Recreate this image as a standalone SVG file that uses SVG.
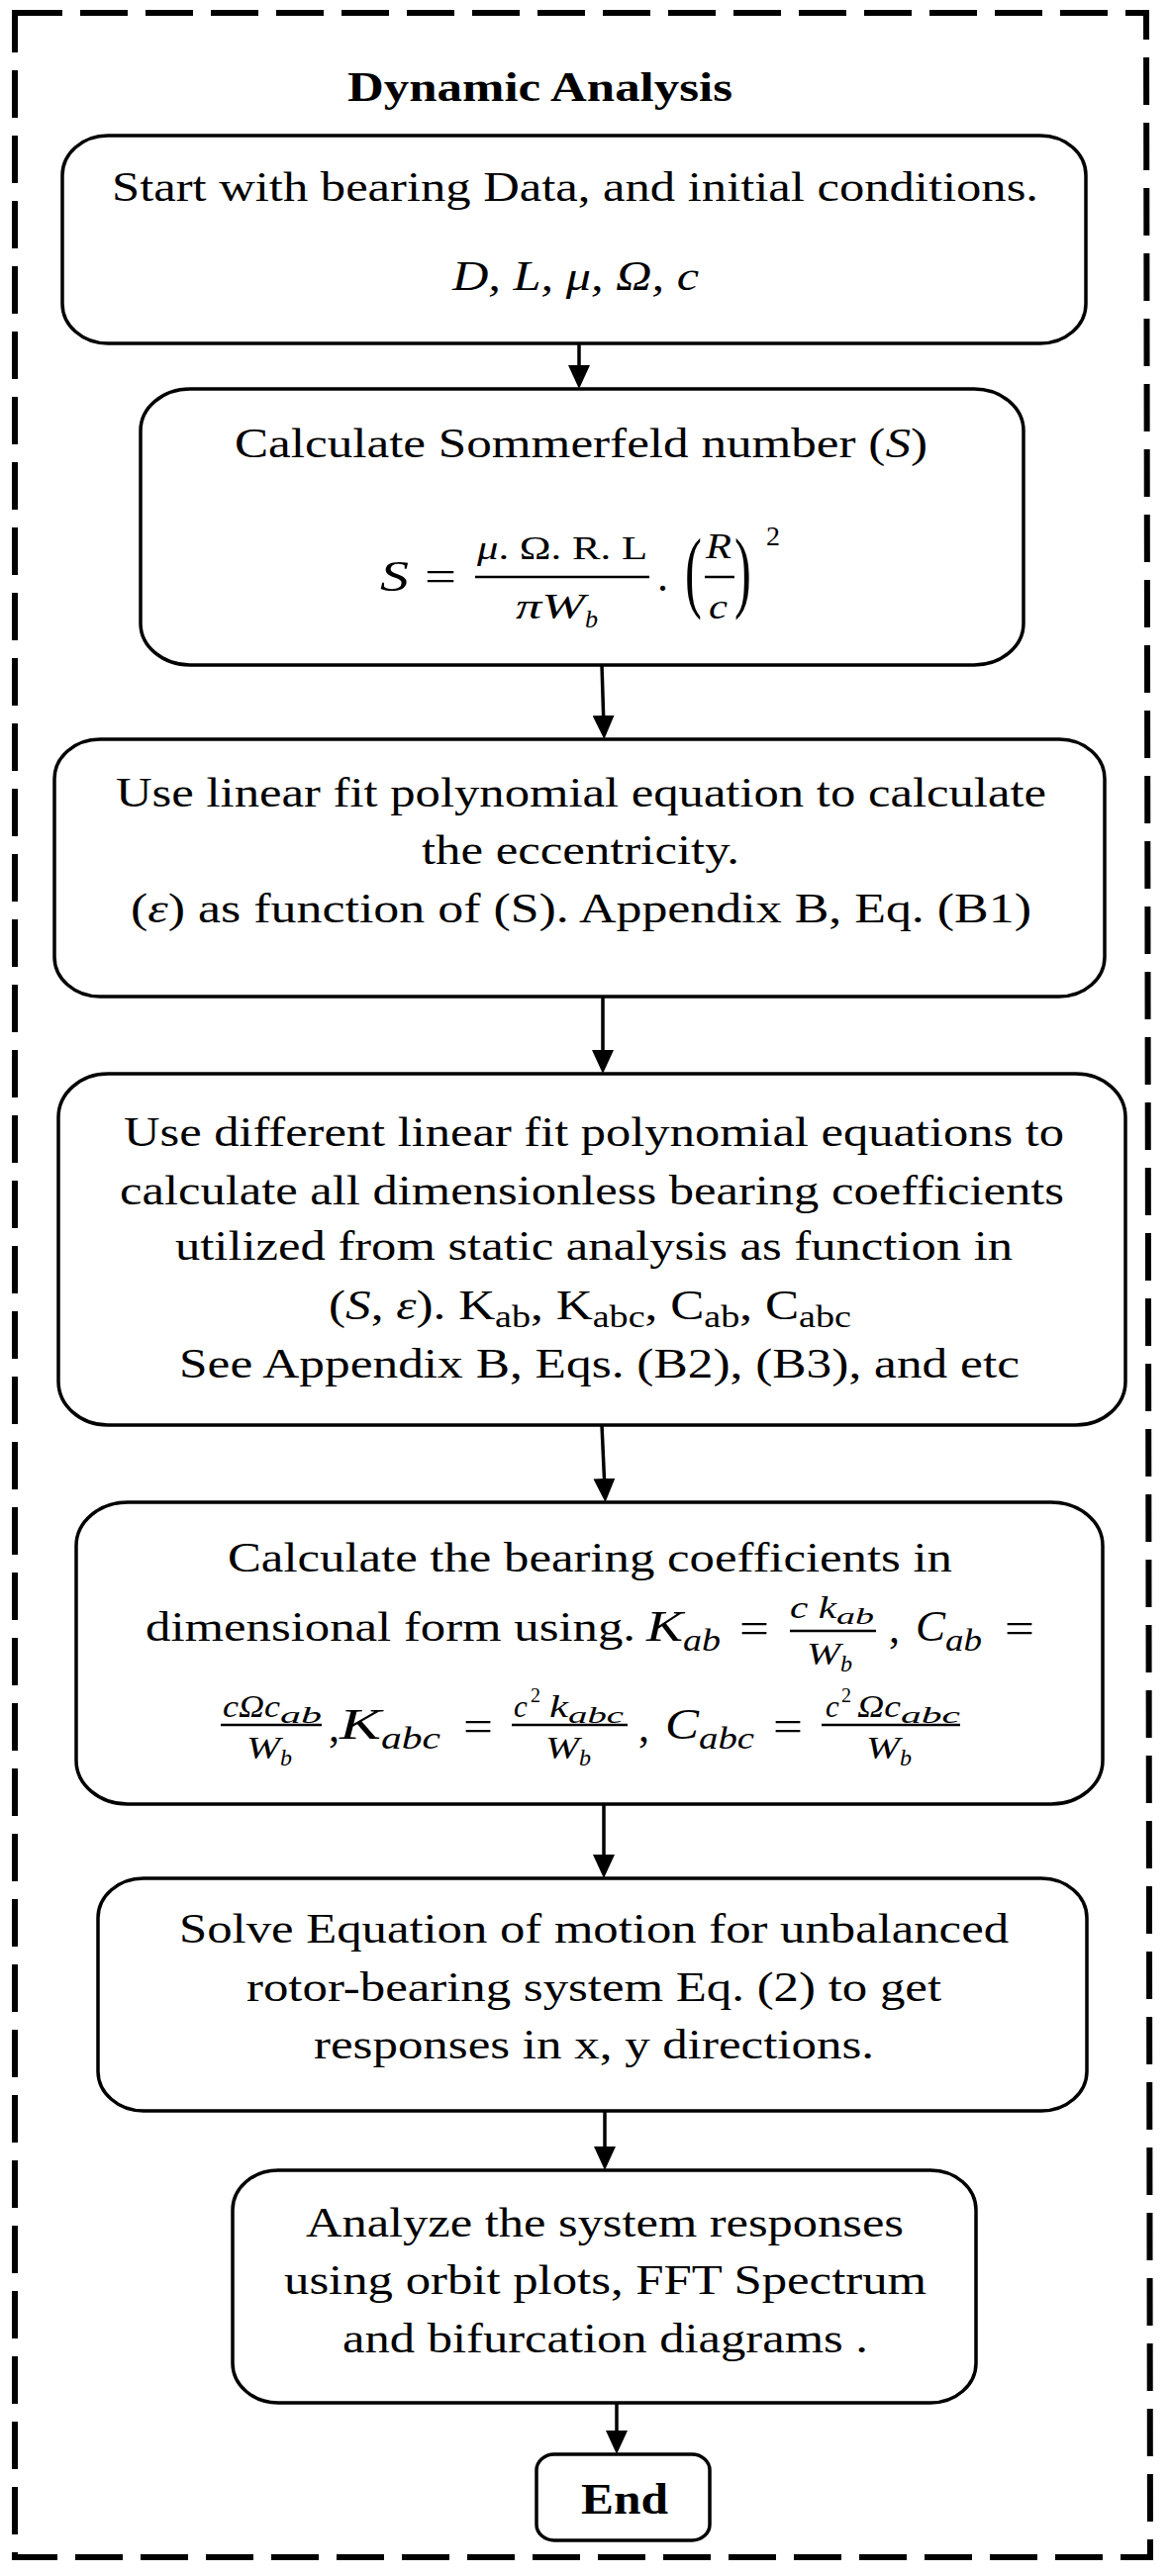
<svg xmlns="http://www.w3.org/2000/svg" width="1182" height="2603" viewBox="0 0 1182 2603">
<style>
.bg{fill:#fff}
.frame{fill:none;stroke:#000;stroke-width:6;stroke-dasharray:48 18}
.box{fill:#fff;stroke:#000;stroke-width:3.5}
.t{font-family:"Liberation Serif","Times New Roman",serif;font-size:43px;fill:#000}
.b{font-family:"Liberation Serif","Times New Roman",serif;font-weight:bold;fill:#000}
.m{font-family:"Liberation Serif","Times New Roman",serif;font-style:italic;fill:#000}
.u{font-family:"Liberation Serif","Times New Roman",serif;fill:#000}
.bar{stroke:#000;stroke-width:2.5}
.conn line{stroke:#000;stroke-width:3.5}
</style>
<defs>
<marker id="ah" viewBox="0 0 24 22" refX="12" refY="11" markerWidth="24" markerHeight="22" markerUnits="userSpaceOnUse" orient="auto">
<path d="M0,0 L24,11 L0,22 Z" fill="#000"/>
</marker>
</defs>
<rect class="bg" x="0" y="0" width="1182" height="2603"/>
<path class="frame" d="M15,13 L1158,13 L1162,2584 L15,2584 Z"/>
<text class="b" x="351" y="102" font-size="43" textLength="389" lengthAdjust="spacingAndGlyphs">Dynamic Analysis</text>

<g id="n1">
<rect class="box" x="63" y="137" width="1034" height="210" rx="46" ry="40"/>
<text class="t" x="113" y="203" textLength="936" lengthAdjust="spacingAndGlyphs">Start with bearing Data, and initial conditions.</text>
<text class="m" x="457" y="293" font-size="43" textLength="249" lengthAdjust="spacingAndGlyphs">D, L, μ, Ω, c</text>
</g>

<g id="n2">
<rect class="box" x="142" y="393" width="892" height="279" rx="50" ry="42"/>
<text class="t" x="237" y="462" textLength="700" lengthAdjust="spacingAndGlyphs">Calculate Sommerfeld number (<tspan font-style="italic">S</tspan>)</text>
<text class="m" x="384" y="597" font-size="44" textLength="29" lengthAdjust="spacingAndGlyphs">S</text>
<text class="u" x="429" y="597" font-size="44" textLength="32" lengthAdjust="spacingAndGlyphs">=</text>
<text class="u" x="482" y="565" font-size="34" textLength="172" lengthAdjust="spacingAndGlyphs"><tspan font-style="italic">μ</tspan>. Ω. R. L</text>
<line class="bar" x1="480" y1="583" x2="656" y2="583"/>
<text class="m" x="521" y="625" font-size="36" textLength="70" lengthAdjust="spacingAndGlyphs">πW</text>
<text class="m" x="591" y="634" font-size="26">b</text>
<text class="u" x="664" y="597" font-size="44">.</text>
<text class="u" transform="translate(692,607) scale(0.55,1)" font-size="92">(</text>
<text class="m" x="713" y="564" font-size="36" textLength="26" lengthAdjust="spacingAndGlyphs">R</text>
<line class="bar" x1="712" y1="583" x2="742" y2="583"/>
<text class="m" x="716" y="625" font-size="36" textLength="19" lengthAdjust="spacingAndGlyphs">c</text>
<text class="u" transform="translate(742,607) scale(0.55,1)" font-size="92">)</text>
<text class="u" x="774" y="551" font-size="28">2</text>
</g>

<g id="n3">
<rect class="box" x="55" y="747" width="1061" height="260" rx="46" ry="40"/>
<text class="t" x="117" y="815" textLength="940" lengthAdjust="spacingAndGlyphs">Use linear fit polynomial equation to calculate</text>
<text class="t" x="426" y="873" textLength="321" lengthAdjust="spacingAndGlyphs">the eccentricity.</text>
<text class="t" x="132" y="932" textLength="910" lengthAdjust="spacingAndGlyphs">(<tspan font-style="italic">ε</tspan>) as function of (S). Appendix B, Eq. (B1)</text>
</g>

<g id="n4">
<rect class="box" x="59" y="1085" width="1078" height="355" rx="50" ry="44"/>
<text class="t" x="125" y="1158" textLength="950" lengthAdjust="spacingAndGlyphs">Use different linear fit polynomial equations to</text>
<text class="t" x="121" y="1217" textLength="954" lengthAdjust="spacingAndGlyphs">calculate all dimensionless bearing coefficients</text>
<text class="t" x="177" y="1273" textLength="846" lengthAdjust="spacingAndGlyphs">utilized from static analysis as function in</text>
<text class="t" x="332" y="1333" textLength="528" lengthAdjust="spacingAndGlyphs">(<tspan font-style="italic">S</tspan>, <tspan font-style="italic">ε</tspan>). K<tspan font-size="32" dy="8">ab</tspan><tspan dy="-8">, K</tspan><tspan font-size="32" dy="8">abc</tspan><tspan dy="-8">, C</tspan><tspan font-size="32" dy="8">ab</tspan><tspan dy="-8">, C</tspan><tspan font-size="32" dy="8">abc</tspan></text>
<text class="t" x="181" y="1392" textLength="849" lengthAdjust="spacingAndGlyphs">See Appendix B, Eqs. (B2), (B3), and etc</text>
</g>

<g id="n5">
<rect class="box" x="77" y="1518" width="1037" height="305" rx="52" ry="44"/>
<text class="t" x="230" y="1588" textLength="732" lengthAdjust="spacingAndGlyphs">Calculate the bearing coefficients in</text>
<text class="t" x="147" y="1658" textLength="495" lengthAdjust="spacingAndGlyphs">dimensional form using.</text>
<text class="m" x="653" y="1658" font-size="44" textLength="37" lengthAdjust="spacingAndGlyphs">K</text>
<text class="m" x="690" y="1668" font-size="32" textLength="38" lengthAdjust="spacingAndGlyphs">ab</text>
<text class="u" x="747" y="1660" font-size="44" textLength="30" lengthAdjust="spacingAndGlyphs">=</text>
<text class="m" x="798" y="1635" font-size="31" textLength="47" lengthAdjust="spacingAndGlyphs">c k</text>
<text class="m" x="845" y="1641" font-size="24" textLength="38" lengthAdjust="spacingAndGlyphs">ab</text>
<line class="bar" x1="798" y1="1648" x2="885" y2="1648"/>
<text class="m" x="815" y="1682" font-size="31" textLength="34" lengthAdjust="spacingAndGlyphs">W</text>
<text class="m" x="849" y="1689" font-size="24">b</text>
<text class="u" x="898" y="1660" font-size="44">,</text>
<text class="m" x="925" y="1658" font-size="44" textLength="30" lengthAdjust="spacingAndGlyphs">C</text>
<text class="m" x="955" y="1668" font-size="32" textLength="37" lengthAdjust="spacingAndGlyphs">ab</text>
<text class="u" x="1015" y="1660" font-size="44" textLength="30" lengthAdjust="spacingAndGlyphs">=</text>

<text class="m" x="225" y="1735" font-size="31" textLength="58" lengthAdjust="spacingAndGlyphs">cΩc</text>
<text class="m" x="283" y="1741" font-size="24" textLength="42" lengthAdjust="spacingAndGlyphs">ab</text>
<line class="bar" x1="223" y1="1743" x2="325" y2="1743"/>
<text class="m" x="249" y="1777" font-size="31" textLength="34" lengthAdjust="spacingAndGlyphs">W</text>
<text class="m" x="283" y="1784" font-size="24">b</text>
<text class="u" x="332" y="1760" font-size="44">,</text>
<text class="m" x="343" y="1757" font-size="44" textLength="42" lengthAdjust="spacingAndGlyphs">K</text>
<text class="m" x="385" y="1767" font-size="32" textLength="60" lengthAdjust="spacingAndGlyphs">abc</text>
<text class="u" x="468" y="1759" font-size="44" textLength="30" lengthAdjust="spacingAndGlyphs">=</text>
<text class="m" x="519" y="1735" font-size="31">c</text>
<text class="u" x="536" y="1720" font-size="20">2</text>
<text class="m" x="555" y="1735" font-size="31" textLength="19" lengthAdjust="spacingAndGlyphs">k</text>
<text class="m" x="574" y="1741" font-size="24" textLength="56" lengthAdjust="spacingAndGlyphs">abc</text>
<line class="bar" x1="517" y1="1743" x2="634" y2="1743"/>
<text class="m" x="551" y="1777" font-size="31" textLength="34" lengthAdjust="spacingAndGlyphs">W</text>
<text class="m" x="585" y="1784" font-size="24">b</text>
<text class="u" x="645" y="1760" font-size="44">,</text>
<text class="m" x="672" y="1757" font-size="44" textLength="34" lengthAdjust="spacingAndGlyphs">C</text>
<text class="m" x="706" y="1767" font-size="32" textLength="56" lengthAdjust="spacingAndGlyphs">abc</text>
<text class="u" x="781" y="1759" font-size="44" textLength="30" lengthAdjust="spacingAndGlyphs">=</text>
<text class="m" x="834" y="1735" font-size="31">c</text>
<text class="u" x="850" y="1720" font-size="20">2</text>
<text class="m" x="866" y="1735" font-size="31" textLength="44" lengthAdjust="spacingAndGlyphs">Ωc</text>
<text class="m" x="910" y="1741" font-size="24" textLength="60" lengthAdjust="spacingAndGlyphs">abc</text>
<line class="bar" x1="830" y1="1743" x2="970" y2="1743"/>
<text class="m" x="875" y="1777" font-size="31" textLength="34" lengthAdjust="spacingAndGlyphs">W</text>
<text class="m" x="909" y="1784" font-size="24">b</text>
</g>

<g id="n6">
<rect class="box" x="99" y="1898" width="999" height="235" rx="46" ry="40"/>
<text class="t" x="181" y="1963" textLength="838" lengthAdjust="spacingAndGlyphs">Solve Equation of motion for unbalanced</text>
<text class="t" x="249" y="2022" textLength="702" lengthAdjust="spacingAndGlyphs">rotor-bearing system Eq. (2) to get</text>
<text class="t" x="317" y="2080" textLength="566" lengthAdjust="spacingAndGlyphs">responses in x, y directions.</text>
</g>

<g id="n7">
<rect class="box" x="235" y="2193" width="751" height="235" rx="46" ry="40"/>
<text class="t" x="309" y="2260" textLength="604" lengthAdjust="spacingAndGlyphs">Analyze the system responses</text>
<text class="t" x="287" y="2318" textLength="649" lengthAdjust="spacingAndGlyphs">using orbit plots, FFT Spectrum</text>
<text class="t" x="346" y="2377" textLength="531" lengthAdjust="spacingAndGlyphs">and bifurcation diagrams .</text>
</g>

<g id="n8">
<rect class="box" x="542" y="2480" width="175" height="87" rx="18" ry="16"/>
<text class="b" x="587" y="2540" font-size="45" textLength="88" lengthAdjust="spacingAndGlyphs">End</text>
</g>

<g id="connectors" class="conn">
<line x1="585" y1="347" x2="585" y2="381" marker-end="url(#ah)"/>
<line x1="608" y1="672" x2="610" y2="735" marker-end="url(#ah)"/>
<line x1="609" y1="1007" x2="609" y2="1073" marker-end="url(#ah)"/>
<line x1="608" y1="1440" x2="611" y2="1506" marker-end="url(#ah)"/>
<line x1="610" y1="1823" x2="610" y2="1886" marker-end="url(#ah)"/>
<line x1="611" y1="2133" x2="611" y2="2181" marker-end="url(#ah)"/>
<line x1="623" y1="2428" x2="623" y2="2468" marker-end="url(#ah)"/>
</g>
</svg>
